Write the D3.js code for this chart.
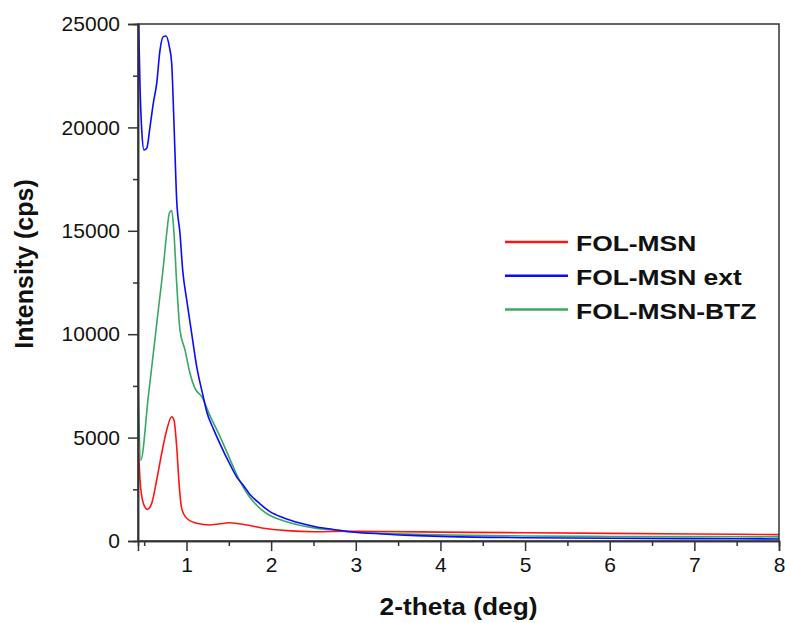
<!DOCTYPE html>
<html>
<head>
<meta charset="utf-8">
<script src="https://cdn.jsdelivr.net/npm/d3@7"></script>
<style>
  body { margin: 0; background: #fff; }
  .chart text { font-family: "Liberation Sans", Arial, sans-serif; fill: #111; }
</style>
</head>
<body>
<div class="chart"></div>
<script>
const w = 785;
const h = 623;
const plotLeft = 138, plotRight = 779, plotTop = 24, plotBottom = 541;

// series (2-theta in deg, intensity in cps)
var seriesNames = ["FOL-MSN", "FOL-MSN ext", "FOL-MSN-BTZ"];
var seriesColors = ["#ff1414", "#0a0aff", "#38a862"];

var redX = [0.43, 0.451, 0.49, 0.537, 0.589, 0.648, 0.707, 0.766, 0.825, 0.852, 0.884, 0.915, 0.943, 1.002, 1.12, 1.278, 1.514, 1.711, 1.907, 2.184, 2.498, 2.93, 3.32, 4, 5, 6, 7, 8];
var redY = [4700, 2950, 1820, 1530, 1820, 2950, 4240, 5370, 6010, 5850, 4560, 2630, 1580, 1100, 860, 775, 885, 775, 615, 500, 450, 470, 460, 430, 400, 370, 340, 310];

var blueX = [0.427, 0.451, 0.471, 0.498, 0.53, 0.569, 0.608, 0.648, 0.687, 0.726, 0.758, 0.797, 0.825, 0.844, 0.864, 0.884, 0.923, 0.955, 1.002, 1.061, 1.12, 1.198, 1.239, 1.32, 1.396, 1.514, 1.6, 1.671, 1.75, 1.868, 1.986, 2.143, 2.34, 2.537, 2.734, 2.93, 3.32, 3.72, 4.11, 5, 6, 7, 8];
var blueY = [26500, 21970, 19880, 18910, 18990, 20030, 21170, 22130, 23740, 24390, 24420, 23910, 23100, 21170, 18750, 16490, 14880, 13100, 11670, 10040, 8440, 6980, 6250, 5400, 4700, 3700, 3050, 2700, 2250, 1800, 1420, 1130, 870, 680, 560, 450, 340, 260, 210, 160, 130, 115, 100];

var greenX = [0.427, 0.459, 0.549, 0.608, 0.667, 0.726, 0.766, 0.797, 0.825, 0.852, 0.884, 0.923, 0.982, 1.041, 1.1, 1.18, 1.278, 1.396, 1.514, 1.6, 1.671, 1.75, 1.868, 1.986, 2.143, 2.34, 2.537, 2.734, 2.93, 3.32, 3.72, 4.11, 5, 6, 7, 8];
var greenY = [8100, 3900, 6990, 9080, 11170, 13260, 14880, 15850, 15980, 14880, 12460, 10200, 9240, 8110, 7380, 6980, 6050, 5050, 3950, 3150, 2600, 2100, 1580, 1230, 980, 760, 610, 530, 450, 370, 320, 290, 240, 220, 210, 200];

var xTicks = [1, 2, 3, 4, 5, 6, 7, 8];
var xMinor = [0.5, 1.5, 2.5, 3.5, 4.5, 5.5, 6.5, 7.5];
var yTicks = [0, 5000, 10000, 15000, 20000, 25000];
var yMinor = [2500, 7500, 12500, 17500, 22500];

var svg = d3.select(".chart").append("svg")
      .attr("width", w)
      .attr("height", h);

var xScale = d3.scaleLinear().domain([0.427, 8]).range([plotLeft, plotRight]);
var yScale = d3.scaleLinear().domain([0, 25000]).range([plotBottom, plotTop]);

svg.append("clipPath").attr("id", "plot")
   .append("rect")
   .attr("x", plotLeft).attr("y", plotTop)
   .attr("width", plotRight - plotLeft).attr("height", plotBottom - plotTop);

// DRAW THE CURVES
var line = d3.line()
    .x(d => xScale(d[0]))
    .y(d => yScale(d[1]))
    .curve(d3.curveMonotoneX);

var series = [d3.zip(redX, redY), d3.zip(blueX, blueY), d3.zip(greenX, greenY)];

svg.append("g").attr("clip-path", "url(#plot)")
   .selectAll("path")
   .data([2, 0, 1])
   .enter().append("path")
   .attr("d", i => line(series[i]))
   .attr("fill", "none")
   .attr("stroke", i => seriesColors[i])
   .attr("stroke-width", 1.6);

// frame
svg.append("rect")
   .attr("x", plotLeft).attr("y", plotTop)
   .attr("width", plotRight - plotLeft).attr("height", plotBottom - plotTop)
   .attr("fill", "none")
   .attr("stroke", "#333")
   .attr("stroke-width", 1.5);

// axes
var xAxis = d3.axisBottom(xScale).tickValues(xTicks).tickSize(10).tickPadding(6).tickFormat(d3.format("d"));
svg.append("g")
   .attr("transform", "translate(0," + plotBottom + ")")
   .call(xAxis);
svg.append("g")
   .attr("transform", "translate(0," + plotBottom + ")")
   .call(d3.axisBottom(xScale).tickValues(xMinor).tickSize(5).tickFormat(""));

var yAxis = d3.axisLeft(yScale).tickValues(yTicks).tickSize(10).tickPadding(8).tickFormat(d3.format("d"));
svg.append("g")
   .attr("transform", "translate(" + plotLeft + ",0)")
   .call(yAxis);
svg.append("g")
   .attr("transform", "translate(" + plotLeft + ",0)")
   .call(d3.axisLeft(yScale).tickValues(yMinor).tickSize(5).tickFormat(""));

svg.selectAll(".domain").attr("stroke", "#333").attr("stroke-width", 1.5);
svg.selectAll(".tick line").attr("stroke", "#333").attr("stroke-width", 1.5);
svg.selectAll(".tick text")
   .style("font-family", "'Liberation Sans', Arial, sans-serif")
   .style("font-size", "21px")
   .attr("fill", "#111");

// axis titles
svg.append("text")
   .attr("x", (plotLeft + plotRight) / 2)
   .attr("y", 615)
   .attr("text-anchor", "middle")
   .attr("textLength", 158)
   .attr("lengthAdjust", "spacingAndGlyphs")
   .style("font-size", "23px")
   .style("font-weight", "bold")
   .text("2-theta (deg)");

svg.append("text")
   .attr("transform", "translate(33,264) rotate(-90)")
   .attr("text-anchor", "middle")
   .style("font-size", "25px")
   .style("font-weight", "bold")
   .text("Intensity (cps)");

// legend
var legend = svg.selectAll(".legend")
   .data(seriesNames)
   .enter().append("g")
   .attr("class", "legend")
   .attr("transform", (d, i) => "translate(505," + (242 + i * 33.8) + ")");

legend.append("line")
   .attr("x1", 0).attr("x2", 63)
   .attr("stroke", (d, i) => seriesColors[i])
   .attr("stroke-width", 2.5);

legend.append("text")
   .attr("x", 71)
   .attr("y", 9)
   .style("font-size", "22px")
   .style("font-weight", "bold")
   .text(d => d)
   .attr("textLength", function () { return this.getComputedTextLength() * 1.2; })
   .attr("lengthAdjust", "spacingAndGlyphs");
</script>
</body>
</html>
